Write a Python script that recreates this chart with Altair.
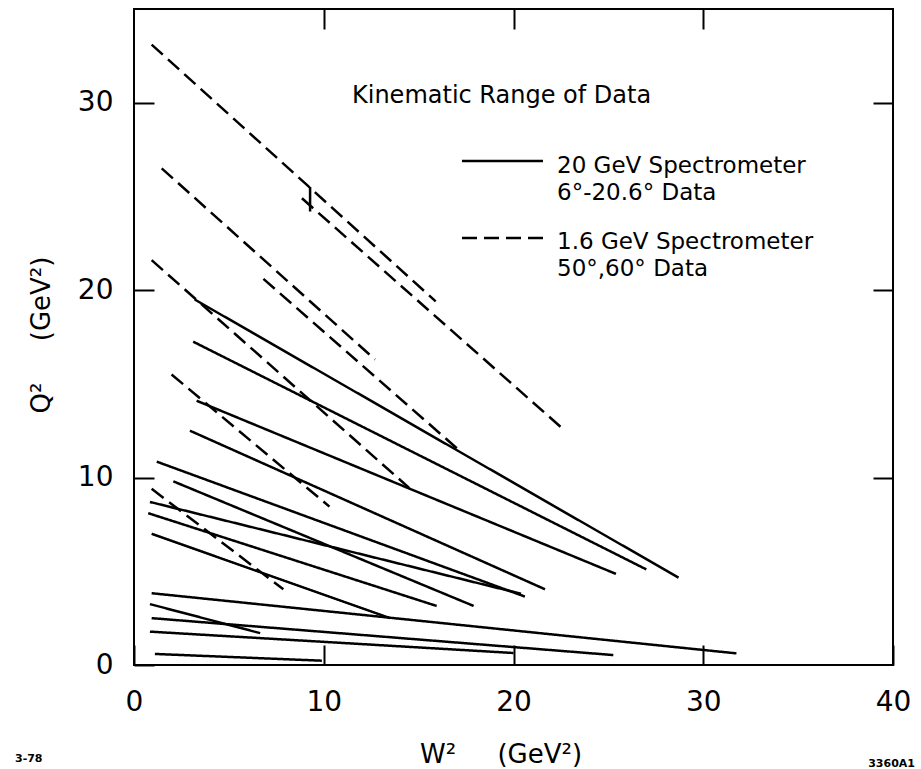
import altair as alt
import pandas as pd

# Kinematic coverage: each straight segment spans W^2 for one beam-energy / angle setting.
# 20 GeV spectrometer (6 deg - 20.6 deg), solid segments
solid_w2_start = [3.2, 3.12, 3.3, 2.95, 1.2, 2.07, 0.84, 0.75, 0.93, 0.93, 0.84, 0.93, 0.84, 1.1, 9.28]
solid_q2_start = [19.5, 17.25, 14.1, 12.5, 10.85, 9.8, 8.7, 8.1, 7.0, 3.83, 3.25, 2.5, 1.78, 0.59, 24.2]
solid_w2_end = [28.7, 27.0, 25.4, 21.66, 20.6, 17.9, 20.4, 15.95, 13.5, 31.75, 6.65, 25.26, 20.0, 9.9, 9.28]
solid_q2_end = [4.66, 5.1, 4.86, 4.04, 3.65, 3.15, 3.8, 3.15, 2.5, 0.62, 1.7, 0.53, 0.64, 0.23, 25.5]

# 1.6 GeV spectrometer (50 deg, 60 deg), dashed segments
dashed_w2_start = [0.93, 8.85, 1.46, 6.82, 0.93, 1.98, 0.93]
dashed_q2_start = [33.1, 24.9, 26.5, 20.6, 21.6, 15.5, 9.4]
dashed_w2_end = [15.9, 22.6, 12.7, 17.2, 14.5, 10.3, 7.87]
dashed_q2_end = [19.4, 12.6, 16.3, 11.4, 9.45, 8.45, 4.04]

x_ticks = [0, 10, 20, 30, 40]
y_ticks = [0, 10, 20, 30]
inner_ticks = [10, 20, 30]

FONT = "DejaVu Sans"
W, H = 759, 656
GAP = "\u00a0" * 5  # wide gap between variable and unit in the axis titles

segments = pd.concat(
    [
        pd.DataFrame({"w2_a": solid_w2_start, "q2_a": solid_q2_start,
                      "w2_b": solid_w2_end, "q2_b": solid_q2_end, "kind": "solid"}),
        pd.DataFrame({"w2_a": dashed_w2_start, "q2_a": dashed_q2_start,
                      "w2_b": dashed_w2_end, "q2_b": dashed_q2_end, "kind": "dashed"}),
    ],
    ignore_index=True,
)

xs = alt.Scale(domain=[0, 40], nice=False, zero=True)
ys = alt.Scale(domain=[0, 35], nice=False, zero=True)

tick_style = dict(offset=-20, tickSize=20, tickWidth=2, tickColor="black",
                  domain=False, grid=False, title=None)

x_axis = alt.Axis(orient="bottom", values=x_ticks, labelFontSize=28, labelFont=FONT,
                  labelColor="black", labelPadding=23, labelFlush=False, **tick_style)
y_axis = alt.Axis(orient="left", values=y_ticks, labelFontSize=28, labelFont=FONT,
                  labelColor="black", labelPadding=21, labelFlush=False, **tick_style)
top_axis = alt.Axis(orient="top", values=inner_ticks, labels=False, **tick_style)
right_axis = alt.Axis(orient="right", values=inner_ticks, labels=False, **tick_style)

lines = alt.Chart(segments).mark_rule(strokeWidth=2.5, color="black").encode(
    x=alt.X("w2_a:Q", scale=xs, axis=x_axis),
    y=alt.Y("q2_a:Q", scale=ys, axis=y_axis),
    x2="w2_b:Q",
    y2="q2_b:Q",
    strokeDash=alt.StrokeDash(
        "kind:N",
        scale=alt.Scale(domain=["solid", "dashed"], range=[[1, 0], [15, 7]]),
        legend=None,
    ),
)

# invisible layer that carries the inward ticks on the top and right edges
frame_ticks = alt.Chart(segments).mark_rule(opacity=0).encode(
    x=alt.X("w2_a:Q", scale=xs, axis=top_axis),
    y=alt.Y("q2_a:Q", scale=ys, axis=right_axis),
)

blank = alt.Data(values=[{}])


def text(label, x, y, size=25, align="left", angle=0, weight="normal", line_height=27):
    return alt.Chart(blank).mark_text(
        text=label, font=FONT, fontSize=size, align=align, baseline="alphabetic",
        angle=angle, fontWeight=weight, color="black", lineBreak="\n",
        lineHeight=line_height,
    ).encode(x=alt.value(x), y=alt.value(y))


def key_line(y, dash=None):
    kwargs = dict(strokeWidth=2.5, color="black")
    if dash:
        kwargs["strokeDash"] = dash
    return alt.Chart(blank).mark_rule(**kwargs).encode(
        x=alt.value(328), x2=alt.value(409), y=alt.value(y)
    )


annotations = [
    text("Kinematic Range of Data", 218, 94, size=24),
    key_line(152),
    text("20 GeV Spectrometer\n6°-20.6° Data", 423, 164, size=23),
    key_line(229, dash=[15, 7]),
    text("1.6 GeV Spectrometer\n50°,60° Data", 423, 240, size=23),
    text("W²" + GAP + "(GeV²)", 286, 754, size=26),
    text("Q²" + GAP + "(GeV²)", -84, 326, size=26, align="center", angle=270),
    text("3-78", -119, 753, size=11, weight="bold"),
    text("3360A1", 781, 758, size=11, align="right", weight="bold"),
]

chart = (
    alt.layer(lines, frame_ticks, *annotations)
    .resolve_axis(x="independent", y="independent")
    .properties(
        width=W,
        height=H,
        autosize=alt.AutoSizeParams(type="none"),
        padding={"left": 134, "top": 9, "right": 28, "bottom": 104},
        background="white",
    )
    .configure_view(stroke="black", strokeWidth=2)
)

chart.save("out.html", embed_options={"renderer": "svg", "actions": False})
